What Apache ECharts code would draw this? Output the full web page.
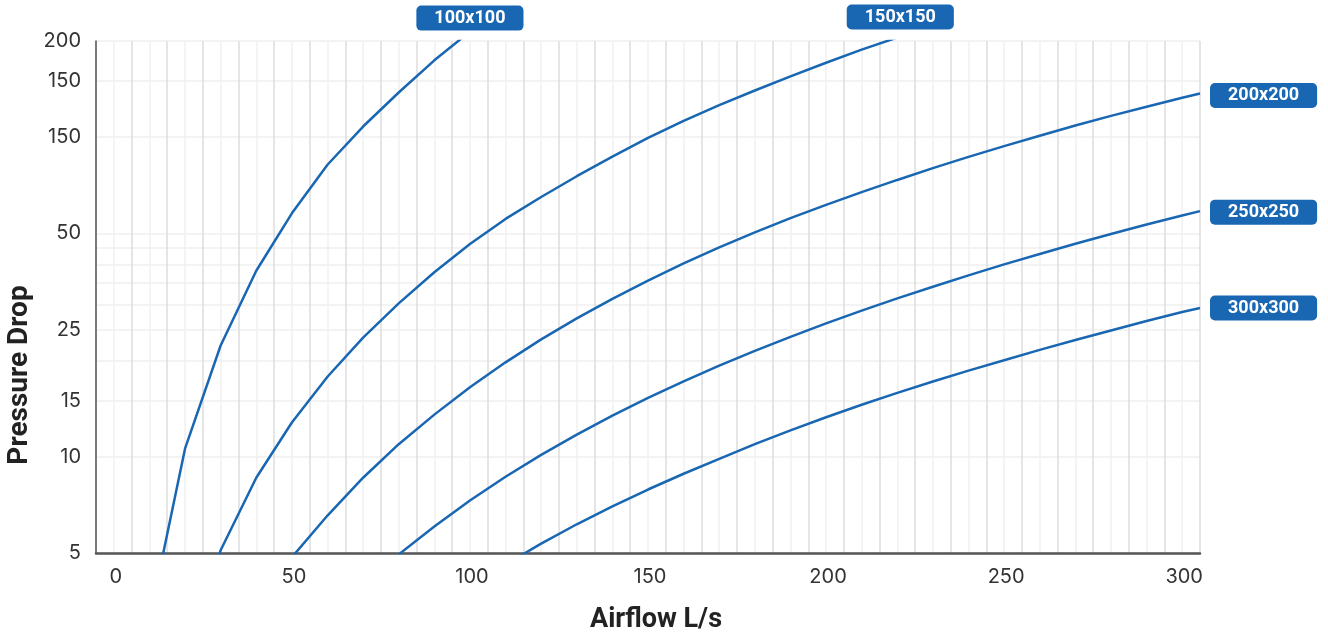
<!DOCTYPE html>
<html><head><meta charset="utf-8">
<script src="https://cdn.jsdelivr.net/npm/echarts@6/dist/echarts.min.js"></script>
<style>html,body{margin:0;padding:0;background:#fff}#c{width:1328px;height:637px}</style>
</head><body><div id="c"></div>
<script>
// Airflow (L/s) and pressure drop readings for each duct size
const q100 = [10, 20, 30, 40, 50, 60, 70, 80, 90, 100];
const p100 = [3.1, 10.6, 22.3, 38.2, 57.8, 82, 108, 138, 174, 214];

const q150 = [20, 30, 40, 50, 60, 70, 80, 90, 100, 110, 120, 130, 140, 150, 160, 170, 180, 190, 200, 210, 220];
const p150 = [2.4, 5.1, 8.6, 12.8, 17.8, 23.6, 30.2, 37.8, 46.3, 55.5, 65.0, 75.5, 87, 99.5, 112.5, 126, 140, 155, 171, 188, 205];

const q200 = [50, 60, 70, 80, 90, 100, 110, 120, 130, 140, 150, 160, 170, 180, 190, 200, 210, 220, 230, 240, 250, 260, 270, 280, 290, 300, 305];
const p200 = [4.85, 6.55, 8.6, 10.95, 13.55, 16.5, 19.75, 23.3, 27.1, 31.2, 35.6, 40.3, 45.2, 50.4, 55.8, 61.4, 67.3, 73.5, 80.0, 86.8, 93.8, 101.1, 108.8, 116.6, 124.6, 132.8, 137];

const q250 = [80, 90, 100, 110, 120, 130, 140, 150, 160, 170, 180, 190, 200, 210, 220, 230, 240, 250, 260, 270, 280, 290, 300, 305];
const p250 = [4.95, 6.05, 7.3, 8.66, 10.14, 11.73, 13.45, 15.28, 17.22, 19.28, 21.45, 23.74, 26.15, 28.66, 31.3, 34.05, 36.95, 40.0, 43.1, 46.4, 49.8, 53.3, 56.9, 58.7];

const q300 = [110, 120, 130, 140, 150, 160, 170, 180, 190, 200, 210, 220, 230, 240, 250, 260, 270, 280, 290, 300, 305];
const p300 = [4.6, 5.35, 6.15, 7.0, 7.9, 8.85, 9.85, 10.95, 12.1, 13.3, 14.55, 15.85, 17.2, 18.6, 20.05, 21.6, 23.2, 24.85, 26.6, 28.4, 29.2];

const seriesNames = ['100x100', '150x150', '200x200', '250x250', '300x300'];

// Axis ticks
const xLabelValues = [0, 50, 100, 150, 200, 250, 300];
const yGridValues = [5, 10, 15, 20, 25, 30, 35, 40, 45, 50, 100, 150, 200];
const yLabelValues = [5, 10, 15, 25, 50, 100, 150, 200];
const yLabelTexts = ['5', '10', '15', '25', '50', '150', '150', '200'];

const xTitle = 'Airflow L/s';
const yTitle = 'Pressure Drop';

const BLUE = '#1967b2';
const pill = {
  show: true,
  color: '#fff',
  backgroundColor: BLUE,
  fontFamily: 'Roboto',
  fontWeight: 'bold',
  fontSize: 18,
  lineHeight: 18,
  padding: [4, 18, 3, 18],
  borderRadius: 5,
  formatter: p => p.seriesName
};

function pairs(qs, ps) { return qs.map((q, i) => [q, ps[i]]); }
const allQ = [q100, q150, q200, q250, q300];
const allP = [p100, p150, p200, p250, p300];

const endLabels = [
  Object.assign({}, pill, { align: 'center', verticalAlign: 'bottom', distance: 0, offset: [0, -1] }),
  Object.assign({}, pill, { align: 'center', verticalAlign: 'bottom', distance: 0, offset: [3, -8] }),
  Object.assign({}, pill, { align: 'left', verticalAlign: 'middle', distance: 10, offset: [0, 2] }),
  Object.assign({}, pill, { align: 'left', verticalAlign: 'middle', distance: 10, offset: [0, 1] }),
  Object.assign({}, pill, { align: 'left', verticalAlign: 'middle', distance: 10 })
];

const chart = echarts.init(document.getElementById('c'), null, { renderer: 'canvas' });
chart.setOption({
  animation: false,
  backgroundColor: '#fff',
  grid: { left: 96, right: 128, top: 41, bottom: 84, containLabel: false },
  xAxis: {
    type: 'value',
    min: -5,
    max: 305,
    interval: 5,
    axisLine: { show: true, onZero: false, lineStyle: { color: '#555', width: 2.5 } },
    axisTick: { show: false },
    axisLabel: {
      color: '#333',
      fontFamily: 'Inter',
      fontSize: 20,
      margin: 14,
      padding: [0, 0, 0, 4],
      formatter: v => (xLabelValues.indexOf(v) >= 0 ? String(v) : '')
    },
    splitLine: { show: true, lineStyle: { color: ['#dcdcdc', '#f1f1f1'], width: 1.5 } }
  },
  yAxis: {
    type: 'log',
    logBase: 10,
    min: 5,
    max: 200,
    axisLine: { show: true, onZero: false, lineStyle: { color: '#555', width: 1.5 } },
    axisTick: { show: false, customValues: yGridValues },
    axisLabel: {
      customValues: yLabelValues,
      color: '#333',
      fontFamily: 'Inter',
      fontSize: 20,
      margin: 15,
      formatter: v => {
        const i = yLabelValues.findIndex(t => Math.abs(t - v) < 1e-6);
        return i >= 0 ? yLabelTexts[i] : '';
      }
    },
    splitLine: { show: true, lineStyle: { color: '#efefef', width: 1.5 } }
  },
  graphic: [
    {
      type: 'text', x: 20, y: 375, rotation: Math.PI / 2,
      style: { text: yTitle, fill: '#222', font: 'bold 28px Roboto', textAlign: 'center', textVerticalAlign: 'middle' }
    },
    {
      type: 'text', x: 656, y: 620,
      style: { text: xTitle, fill: '#222', font: 'bold 27px Roboto', textAlign: 'center', textVerticalAlign: 'middle' }
    }
  ],
  series: seriesNames.map((name, i) => ({
    name: name,
    type: 'line',
    data: pairs(allQ[i], allP[i]),
    showSymbol: false,
    symbol: 'none',
    clip: true,
    lineStyle: { color: BLUE, width: 2.5 },
    itemStyle: { color: BLUE },
    endLabel: endLabels[i],
    z: 3
  }))
});
</script>
</body></html>
